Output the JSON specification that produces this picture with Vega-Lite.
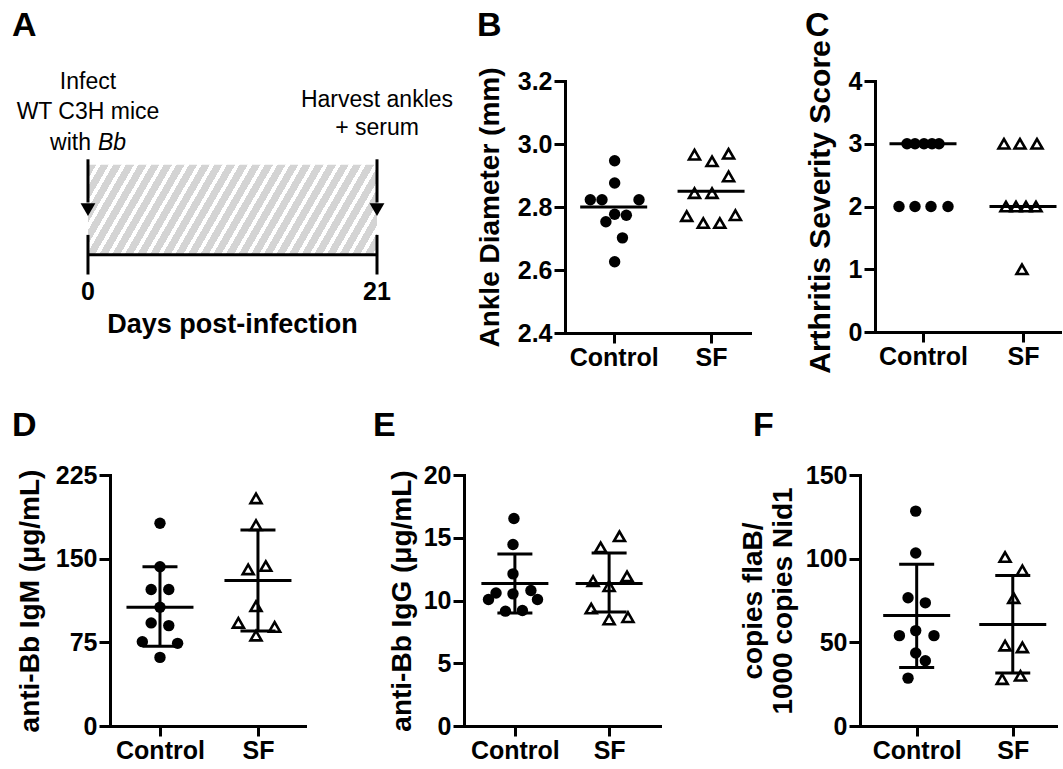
{
  "$schema": "https://vega.github.io/schema/vega-lite/v6.json",
  "background": "white",
  "padding": {"left": 12, "top": 8, "right": 0, "bottom": 0},
  "datasets": {
    "period": [{"start": 0, "end": 21}],
    "events": [{"day": 0, "lab": "0"}, {"day": 21, "lab": "21"}],
    "pts": [
      {"p": "B", "g": "Control", "x": 1.01, "v": 2.947},
      {"p": "B", "g": "Control", "x": 1.01, "v": 2.876},
      {"p": "B", "g": "Control", "x": 0.76, "v": 2.823},
      {"p": "B", "g": "Control", "x": 0.88, "v": 2.823},
      {"p": "B", "g": "Control", "x": 1.26, "v": 2.823},
      {"p": "B", "g": "Control", "x": 1.01, "v": 2.777},
      {"p": "B", "g": "Control", "x": 1.13, "v": 2.774},
      {"p": "B", "g": "Control", "x": 0.92, "v": 2.753},
      {"p": "B", "g": "Control", "x": 1.09, "v": 2.702},
      {"p": "B", "g": "Control", "x": 1.01, "v": 2.626},
      {"p": "B", "g": "SF", "x": 1.83, "v": 2.966},
      {"p": "B", "g": "SF", "x": 2.01, "v": 2.945},
      {"p": "B", "g": "SF", "x": 2.18, "v": 2.969},
      {"p": "B", "g": "SF", "x": 2.18, "v": 2.897},
      {"p": "B", "g": "SF", "x": 1.83, "v": 2.844},
      {"p": "B", "g": "SF", "x": 2.01, "v": 2.844},
      {"p": "B", "g": "SF", "x": 1.75, "v": 2.771},
      {"p": "B", "g": "SF", "x": 1.92, "v": 2.749},
      {"p": "B", "g": "SF", "x": 2.09, "v": 2.749},
      {"p": "B", "g": "SF", "x": 2.25, "v": 2.774},
      {"p": "C", "g": "Control", "x": 0.84, "v": 3},
      {"p": "C", "g": "Control", "x": 0.92, "v": 3},
      {"p": "C", "g": "Control", "x": 1.01, "v": 3},
      {"p": "C", "g": "Control", "x": 1.09, "v": 3},
      {"p": "C", "g": "Control", "x": 1.16, "v": 3},
      {"p": "C", "g": "Control", "x": 0.76, "v": 2},
      {"p": "C", "g": "Control", "x": 0.92, "v": 2},
      {"p": "C", "g": "Control", "x": 1.08, "v": 2},
      {"p": "C", "g": "Control", "x": 1.25, "v": 2},
      {"p": "C", "g": "SF", "x": 1.81, "v": 3},
      {"p": "C", "g": "SF", "x": 1.97, "v": 3},
      {"p": "C", "g": "SF", "x": 2.14, "v": 3},
      {"p": "C", "g": "SF", "x": 1.83, "v": 2},
      {"p": "C", "g": "SF", "x": 1.93, "v": 2},
      {"p": "C", "g": "SF", "x": 2.03, "v": 2},
      {"p": "C", "g": "SF", "x": 2.13, "v": 2},
      {"p": "C", "g": "SF", "x": 1.99, "v": 1},
      {"p": "D", "g": "Control", "x": 1.0, "v": 181.8},
      {"p": "D", "g": "Control", "x": 1.0, "v": 142.8},
      {"p": "D", "g": "Control", "x": 0.91, "v": 122.4},
      {"p": "D", "g": "Control", "x": 1.09, "v": 122.4},
      {"p": "D", "g": "Control", "x": 1.0, "v": 106.5},
      {"p": "D", "g": "Control", "x": 0.91, "v": 92.4},
      {"p": "D", "g": "Control", "x": 1.09, "v": 90},
      {"p": "D", "g": "Control", "x": 0.82, "v": 75.6},
      {"p": "D", "g": "Control", "x": 1.18, "v": 74.1},
      {"p": "D", "g": "Control", "x": 1.0, "v": 61.5},
      {"p": "D", "g": "SF", "x": 1.98, "v": 204},
      {"p": "D", "g": "SF", "x": 1.98, "v": 180},
      {"p": "D", "g": "SF", "x": 1.9, "v": 140.4},
      {"p": "D", "g": "SF", "x": 2.08, "v": 143.4},
      {"p": "D", "g": "SF", "x": 1.98, "v": 107.4},
      {"p": "D", "g": "SF", "x": 1.8, "v": 92.4},
      {"p": "D", "g": "SF", "x": 2.17, "v": 88.8},
      {"p": "D", "g": "SF", "x": 1.98, "v": 81},
      {"p": "E", "g": "Control", "x": 0.99, "v": 16.53},
      {"p": "E", "g": "Control", "x": 0.98, "v": 14.46},
      {"p": "E", "g": "Control", "x": 0.98, "v": 12.12},
      {"p": "E", "g": "Control", "x": 0.98, "v": 10.53},
      {"p": "E", "g": "Control", "x": 0.8, "v": 10.6},
      {"p": "E", "g": "Control", "x": 1.17, "v": 10.8},
      {"p": "E", "g": "Control", "x": 0.72, "v": 10.08},
      {"p": "E", "g": "Control", "x": 1.24, "v": 10.08},
      {"p": "E", "g": "Control", "x": 0.9, "v": 9.15},
      {"p": "E", "g": "Control", "x": 1.08, "v": 9.2},
      {"p": "E", "g": "SF", "x": 2.11, "v": 15.12},
      {"p": "E", "g": "SF", "x": 1.91, "v": 14.24},
      {"p": "E", "g": "SF", "x": 1.83, "v": 11.54},
      {"p": "E", "g": "SF", "x": 2.19, "v": 11.93},
      {"p": "E", "g": "SF", "x": 2.0, "v": 11.14},
      {"p": "E", "g": "SF", "x": 1.81, "v": 9.36},
      {"p": "E", "g": "SF", "x": 2.0, "v": 8.49},
      {"p": "E", "g": "SF", "x": 2.2, "v": 8.67},
      {"p": "F", "g": "Control", "x": 0.99, "v": 128.4},
      {"p": "F", "g": "Control", "x": 0.99, "v": 103.4},
      {"p": "F", "g": "Control", "x": 0.91, "v": 76.6},
      {"p": "F", "g": "Control", "x": 1.09, "v": 73.6},
      {"p": "F", "g": "Control", "x": 0.99, "v": 57},
      {"p": "F", "g": "Control", "x": 0.82, "v": 54},
      {"p": "F", "g": "Control", "x": 1.18, "v": 54},
      {"p": "F", "g": "Control", "x": 0.99, "v": 43.6},
      {"p": "F", "g": "Control", "x": 1.09, "v": 39},
      {"p": "F", "g": "Control", "x": 0.91, "v": 28.6},
      {"p": "F", "g": "SF", "x": 1.92, "v": 101},
      {"p": "F", "g": "SF", "x": 2.1, "v": 93},
      {"p": "F", "g": "SF", "x": 2.01, "v": 76.4},
      {"p": "F", "g": "SF", "x": 1.92, "v": 48},
      {"p": "F", "g": "SF", "x": 2.1, "v": 47},
      {"p": "F", "g": "SF", "x": 1.89, "v": 28},
      {"p": "F", "g": "SF", "x": 2.08, "v": 30}
    ],
    "sum": [
      {"p": "B", "g": "Control", "x": 1, "v": 2.8},
      {"p": "B", "g": "SF", "x": 2, "v": 2.85},
      {"p": "C", "g": "Control", "x": 1, "v": 3},
      {"p": "C", "g": "SF", "x": 2, "v": 2},
      {"p": "D", "g": "Control", "x": 1, "v": 106.5, "lo": 71.6, "hi": 142.8},
      {"p": "D", "g": "SF", "x": 2, "v": 130.5, "lo": 85.2, "hi": 175.8},
      {"p": "E", "g": "Control", "x": 1, "v": 11.35, "lo": 9.01, "hi": 13.71},
      {"p": "E", "g": "SF", "x": 2, "v": 11.35, "lo": 9.09, "hi": 13.79},
      {"p": "F", "g": "Control", "x": 1, "v": 66, "lo": 35, "hi": 96.6},
      {"p": "F", "g": "SF", "x": 2, "v": 60.6, "lo": 31.6, "hi": 90}
    ]
  },
  "vconcat": [
    {
      "spacing": 22,
      "hconcat": [
        {
          "width": 267,
          "height": 252,
          "title": {"text": "A", "dx": -98, "dy": -24},
          "layer": [
            {
              "data": {"name": "period"},
              "mark": {"type": "rect", "strokeWidth": 0, "fill": {"gradient": "linear", "x1": 0, "y1": 0, "x2": 1.1429, "y2": 0.2055, "stops": [
                {"offset": 0, "color": "#d4d4d4"}, {"offset": 0.0241, "color": "#d4d4d4"}, {"offset": 0.0241, "color": "#ffffff"}, {"offset": 0.037, "color": "#ffffff"},
                {"offset": 0.037, "color": "#d4d4d4"}, {"offset": 0.0611, "color": "#d4d4d4"}, {"offset": 0.0611, "color": "#ffffff"}, {"offset": 0.0741, "color": "#ffffff"},
                {"offset": 0.0741, "color": "#d4d4d4"}, {"offset": 0.0982, "color": "#d4d4d4"}, {"offset": 0.0982, "color": "#ffffff"}, {"offset": 0.1111, "color": "#ffffff"},
                {"offset": 0.1111, "color": "#d4d4d4"}, {"offset": 0.1352, "color": "#d4d4d4"}, {"offset": 0.1352, "color": "#ffffff"}, {"offset": 0.1481, "color": "#ffffff"},
                {"offset": 0.1481, "color": "#d4d4d4"}, {"offset": 0.1722, "color": "#d4d4d4"}, {"offset": 0.1722, "color": "#ffffff"}, {"offset": 0.1852, "color": "#ffffff"},
                {"offset": 0.1852, "color": "#d4d4d4"}, {"offset": 0.2093, "color": "#d4d4d4"}, {"offset": 0.2093, "color": "#ffffff"}, {"offset": 0.2222, "color": "#ffffff"},
                {"offset": 0.2222, "color": "#d4d4d4"}, {"offset": 0.2463, "color": "#d4d4d4"}, {"offset": 0.2463, "color": "#ffffff"}, {"offset": 0.2593, "color": "#ffffff"},
                {"offset": 0.2593, "color": "#d4d4d4"}, {"offset": 0.2834, "color": "#d4d4d4"}, {"offset": 0.2834, "color": "#ffffff"}, {"offset": 0.2963, "color": "#ffffff"},
                {"offset": 0.2963, "color": "#d4d4d4"}, {"offset": 0.3204, "color": "#d4d4d4"}, {"offset": 0.3204, "color": "#ffffff"}, {"offset": 0.3333, "color": "#ffffff"},
                {"offset": 0.3333, "color": "#d4d4d4"}, {"offset": 0.3574, "color": "#d4d4d4"}, {"offset": 0.3574, "color": "#ffffff"}, {"offset": 0.3704, "color": "#ffffff"},
                {"offset": 0.3704, "color": "#d4d4d4"}, {"offset": 0.3945, "color": "#d4d4d4"}, {"offset": 0.3945, "color": "#ffffff"}, {"offset": 0.4074, "color": "#ffffff"},
                {"offset": 0.4074, "color": "#d4d4d4"}, {"offset": 0.4315, "color": "#d4d4d4"}, {"offset": 0.4315, "color": "#ffffff"}, {"offset": 0.4444, "color": "#ffffff"},
                {"offset": 0.4444, "color": "#d4d4d4"}, {"offset": 0.4685, "color": "#d4d4d4"}, {"offset": 0.4685, "color": "#ffffff"}, {"offset": 0.4815, "color": "#ffffff"},
                {"offset": 0.4815, "color": "#d4d4d4"}, {"offset": 0.5056, "color": "#d4d4d4"}, {"offset": 0.5056, "color": "#ffffff"}, {"offset": 0.5185, "color": "#ffffff"},
                {"offset": 0.5185, "color": "#d4d4d4"}, {"offset": 0.5426, "color": "#d4d4d4"}, {"offset": 0.5426, "color": "#ffffff"}, {"offset": 0.5556, "color": "#ffffff"},
                {"offset": 0.5556, "color": "#d4d4d4"}, {"offset": 0.5797, "color": "#d4d4d4"}, {"offset": 0.5797, "color": "#ffffff"}, {"offset": 0.5926, "color": "#ffffff"},
                {"offset": 0.5926, "color": "#d4d4d4"}, {"offset": 0.6167, "color": "#d4d4d4"}, {"offset": 0.6167, "color": "#ffffff"}, {"offset": 0.6296, "color": "#ffffff"},
                {"offset": 0.6296, "color": "#d4d4d4"}, {"offset": 0.6537, "color": "#d4d4d4"}, {"offset": 0.6537, "color": "#ffffff"}, {"offset": 0.6667, "color": "#ffffff"},
                {"offset": 0.6667, "color": "#d4d4d4"}, {"offset": 0.6908, "color": "#d4d4d4"}, {"offset": 0.6908, "color": "#ffffff"}, {"offset": 0.7037, "color": "#ffffff"},
                {"offset": 0.7037, "color": "#d4d4d4"}, {"offset": 0.7278, "color": "#d4d4d4"}, {"offset": 0.7278, "color": "#ffffff"}, {"offset": 0.7407, "color": "#ffffff"},
                {"offset": 0.7407, "color": "#d4d4d4"}, {"offset": 0.7648, "color": "#d4d4d4"}, {"offset": 0.7648, "color": "#ffffff"}, {"offset": 0.7778, "color": "#ffffff"},
                {"offset": 0.7778, "color": "#d4d4d4"}, {"offset": 0.8019, "color": "#d4d4d4"}, {"offset": 0.8019, "color": "#ffffff"}, {"offset": 0.8148, "color": "#ffffff"},
                {"offset": 0.8148, "color": "#d4d4d4"}, {"offset": 0.8389, "color": "#d4d4d4"}, {"offset": 0.8389, "color": "#ffffff"}, {"offset": 0.8519, "color": "#ffffff"},
                {"offset": 0.8519, "color": "#d4d4d4"}, {"offset": 0.876, "color": "#d4d4d4"}, {"offset": 0.876, "color": "#ffffff"}, {"offset": 0.8889, "color": "#ffffff"},
                {"offset": 0.8889, "color": "#d4d4d4"}, {"offset": 0.913, "color": "#d4d4d4"}, {"offset": 0.913, "color": "#ffffff"}, {"offset": 0.9259, "color": "#ffffff"},
                {"offset": 0.9259, "color": "#d4d4d4"}, {"offset": 0.95, "color": "#d4d4d4"}, {"offset": 0.95, "color": "#ffffff"}, {"offset": 0.963, "color": "#ffffff"},
                {"offset": 0.963, "color": "#d4d4d4"}, {"offset": 0.9871, "color": "#d4d4d4"}, {"offset": 0.9871, "color": "#ffffff"}, {"offset": 1, "color": "#ffffff"}
              ]}},
              "encoding": {
                "x": {"field": "start", "type": "quantitative", "scale": {"domain": [1.6, 21], "nice": false, "zero": false}, "axis": null},
                "x2": {"field": "end"},
                "y": {"datum": 0, "type": "quantitative", "scale": {"domain": [-8.7, 19.3], "nice": false, "zero": false}, "axis": null},
                "y2": {"datum": 10}
              }
            },
            {
              "data": {"name": "period"},
              "mark": {"type": "rule", "strokeWidth": 3, "color": "#000"},
              "encoding": {
                "x": {"field": "start", "type": "quantitative", "scale": {"domain": [1.6, 21], "nice": false, "zero": false}, "axis": null},
                "x2": {"field": "end"},
                "y": {"datum": 0, "type": "quantitative", "scale": {"domain": [-8.7, 19.3], "nice": false, "zero": false}, "axis": null}
              }
            },
            {
              "data": {"name": "events"},
              "mark": {"type": "rule", "strokeWidth": 3, "color": "#000"},
              "encoding": {
                "x": {"field": "day", "type": "quantitative", "scale": {"domain": [1.6, 21], "nice": false, "zero": false}, "axis": null},
                "y": {"datum": -2.2, "type": "quantitative", "scale": {"domain": [-8.7, 19.3], "nice": false, "zero": false}, "axis": null},
                "y2": {"datum": 2.2}
              }
            },
            {
              "data": {"name": "events"},
              "mark": {"type": "rule", "strokeWidth": 3, "color": "#000"},
              "encoding": {
                "x": {"field": "day", "type": "quantitative", "scale": {"domain": [1.6, 21], "nice": false, "zero": false}, "axis": null},
                "y": {"datum": 10.6, "type": "quantitative", "scale": {"domain": [-8.7, 19.3], "nice": false, "zero": false}, "axis": null},
                "y2": {"datum": 5.8}
              }
            },
            {
              "data": {"name": "events"},
              "mark": {"type": "point", "shape": "triangle-down", "filled": true, "size": 220, "color": "#000", "opacity": 1},
              "encoding": {
                "x": {"field": "day", "type": "quantitative", "scale": {"domain": [1.6, 21], "nice": false, "zero": false}, "axis": null},
                "y": {"datum": 5.0, "type": "quantitative", "scale": {"domain": [-8.7, 19.3], "nice": false, "zero": false}, "axis": null}
              }
            },
            {
              "data": {"name": "events"},
              "mark": {"type": "text", "font": "Liberation Sans", "fontSize": 25, "fontWeight": "bold", "baseline": "middle", "align": "center", "color": "#000"},
              "encoding": {
                "x": {"field": "day", "type": "quantitative", "scale": {"domain": [1.6, 21], "nice": false, "zero": false}, "axis": null},
                "y": {"datum": -4.1, "type": "quantitative", "scale": {"domain": [-8.7, 19.3], "nice": false, "zero": false}, "axis": null},
                "text": {"field": "lab"}
              }
            },
            {
              "data": {"name": "period"},
              "mark": {"type": "text", "text": "Days post-infection", "font": "Liberation Sans", "fontSize": 27, "fontWeight": "bold", "baseline": "middle", "align": "center", "color": "#000"},
              "encoding": {
                "x": {"datum": 10.5, "type": "quantitative", "scale": {"domain": [1.6, 21], "nice": false, "zero": false}, "axis": null},
                "y": {"datum": -7.8, "type": "quantitative", "scale": {"domain": [-8.7, 19.3], "nice": false, "zero": false}, "axis": null}
              }
            },
            {
              "data": {"name": "period"},
              "mark": {"type": "text", "text": "Infect", "font": "Liberation Sans", "fontSize": 23, "baseline": "middle", "align": "center", "color": "#000"},
              "encoding": {
                "x": {"field": "start", "type": "quantitative", "scale": {"domain": [1.6, 21], "nice": false, "zero": false}, "axis": null},
                "y": {"datum": 19.2, "type": "quantitative", "scale": {"domain": [-8.7, 19.3], "nice": false, "zero": false}, "axis": null}
              }
            },
            {
              "data": {"name": "period"},
              "mark": {"type": "text", "text": "WT C3H mice", "font": "Liberation Sans", "fontSize": 23, "baseline": "middle", "align": "center", "color": "#000"},
              "encoding": {
                "x": {"field": "start", "type": "quantitative", "scale": {"domain": [1.6, 21], "nice": false, "zero": false}, "axis": null},
                "y": {"datum": 15.9, "type": "quantitative", "scale": {"domain": [-8.7, 19.3], "nice": false, "zero": false}, "axis": null}
              }
            },
            {
              "data": {"name": "period"},
              "mark": {"type": "text", "text": "with", "font": "Liberation Sans", "fontSize": 23, "baseline": "middle", "align": "right", "dx": 3, "color": "#000"},
              "encoding": {
                "x": {"field": "start", "type": "quantitative", "scale": {"domain": [1.6, 21], "nice": false, "zero": false}, "axis": null},
                "y": {"datum": 12.44, "type": "quantitative", "scale": {"domain": [-8.7, 19.3], "nice": false, "zero": false}, "axis": null}
              }
            },
            {
              "data": {"name": "period"},
              "mark": {"type": "text", "text": "Bb", "font": "Liberation Sans", "fontSize": 23, "fontStyle": "italic", "baseline": "middle", "align": "left", "dx": 10, "color": "#000"},
              "encoding": {
                "x": {"field": "start", "type": "quantitative", "scale": {"domain": [1.6, 21], "nice": false, "zero": false}, "axis": null},
                "y": {"datum": 12.44, "type": "quantitative", "scale": {"domain": [-8.7, 19.3], "nice": false, "zero": false}, "axis": null}
              }
            },
            {
              "data": {"name": "period"},
              "mark": {"type": "text", "text": "Harvest ankles", "font": "Liberation Sans", "fontSize": 23, "baseline": "middle", "align": "center", "color": "#000"},
              "encoding": {
                "x": {"field": "end", "type": "quantitative", "scale": {"domain": [1.6, 21], "nice": false, "zero": false}, "axis": null},
                "y": {"datum": 17.2, "type": "quantitative", "scale": {"domain": [-8.7, 19.3], "nice": false, "zero": false}, "axis": null}
              }
            },
            {
              "data": {"name": "period"},
              "mark": {"type": "text", "text": "+ serum", "font": "Liberation Sans", "fontSize": 23, "baseline": "middle", "align": "center", "color": "#000"},
              "encoding": {
                "x": {"field": "end", "type": "quantitative", "scale": {"domain": [1.6, 21], "nice": false, "zero": false}, "axis": null},
                "y": {"datum": 14.1, "type": "quantitative", "scale": {"domain": [-8.7, 19.3], "nice": false, "zero": false}, "axis": null}
              }
            }
          ]
        },
        {
          "spacing": 55,
          "hconcat": [
            {
              "width": 185,
              "height": 252,
              "title": {"text": "B", "dx": -88, "dy": -20},
              "encoding": {
                "x": {"field": "x", "type": "quantitative", "scale": {"domain": [0.5, 2.4], "nice": false, "zero": false}, "axis": {"values": [1, 2], "labelExpr": "datum.value == 1 ? 'Control' : 'SF'", "title": null}},
                "y": {"field": "v", "type": "quantitative", "scale": {"domain": [2.4, 3.2], "nice": false, "zero": false}, "axis": {"values": [2.4, 2.6, 2.8, 3.0, 3.2], "format": ".1f", "title": "Ankle Diameter (mm)", "titlePadding": 13}}
              },
              "layer": [
                {"data": {"name": "pts"}, "transform": [{"filter": "datum.p == 'B' && datum.g == 'Control'"}], "mark": {"type": "point", "shape": "circle", "filled": true, "size": 130, "color": "#000", "opacity": 1}},
                {"data": {"name": "pts"}, "transform": [{"filter": "datum.p == 'B' && datum.g == 'SF'"}], "mark": {"type": "point", "shape": "triangle-up", "filled": false, "size": 120, "strokeWidth": 2.6, "color": "#000", "opacity": 1}},
                {"data": {"name": "sum"}, "transform": [{"filter": "datum.p == 'B'"}], "mark": {"type": "tick", "orient": "horizontal", "size": 67, "thickness": 3, "color": "#000", "opacity": 1}}
              ]
            },
            {
              "width": 187,
              "height": 251,
              "title": {"text": "C", "dx": -70, "dy": 7},
              "encoding": {
                "x": {"field": "x", "type": "quantitative", "scale": {"domain": [0.52, 2.39], "nice": false, "zero": false}, "axis": {"values": [1, 2], "labelExpr": "datum.value == 1 ? 'Control' : 'SF'", "title": null}},
                "y": {"field": "v", "type": "quantitative", "scale": {"domain": [0, 4], "nice": false, "zero": false}, "axis": {"values": [0, 1, 2, 3, 4], "title": "Arthritis Severity Score", "titleFontSize": 30, "titlePadding": 13}}
              },
              "layer": [
                {"data": {"name": "pts"}, "transform": [{"filter": "datum.p == 'C' && datum.g == 'Control'"}], "mark": {"type": "point", "shape": "circle", "filled": true, "size": 130, "color": "#000", "opacity": 1}},
                {"data": {"name": "pts"}, "transform": [{"filter": "datum.p == 'C' && datum.g == 'SF'"}], "mark": {"type": "point", "shape": "triangle-up", "filled": false, "size": 120, "strokeWidth": 2.6, "color": "#000", "opacity": 1}},
                {"data": {"name": "sum"}, "transform": [{"filter": "datum.p == 'C'"}], "mark": {"type": "tick", "orient": "horizontal", "size": 67, "thickness": 3, "color": "#000", "opacity": 1}}
              ]
            }
          ]
        }
      ]
    },
    {
      "spacing": 68,
      "hconcat": [
        {
          "width": 195,
          "height": 251,
          "title": {"text": "D", "dx": -98, "dy": -16},
          "encoding": {
            "x": {"field": "x", "type": "quantitative", "scale": {"domain": [0.49, 2.48], "nice": false, "zero": false}, "axis": {"values": [1, 2], "labelExpr": "datum.value == 1 ? 'Control' : 'SF'", "title": null}},
            "y": {"field": "v", "type": "quantitative", "scale": {"domain": [0, 225], "nice": false, "zero": false}, "axis": {"values": [0, 75, 150, 225], "title": "anti-Bb IgM (μg/mL)", "titlePadding": 11}}
          },
          "layer": [
            {"data": {"name": "pts"}, "transform": [{"filter": "datum.p == 'D' && datum.g == 'Control'"}], "mark": {"type": "point", "shape": "circle", "filled": true, "size": 130, "color": "#000", "opacity": 1}},
            {"data": {"name": "pts"}, "transform": [{"filter": "datum.p == 'D' && datum.g == 'SF'"}], "mark": {"type": "point", "shape": "triangle-up", "filled": false, "size": 120, "strokeWidth": 2.6, "color": "#000", "opacity": 1}},
            {"data": {"name": "sum"}, "transform": [{"filter": "datum.p == 'D'"}], "mark": {"type": "tick", "orient": "horizontal", "size": 67, "thickness": 3, "color": "#000", "opacity": 1}},
            {"data": {"name": "sum"}, "transform": [{"filter": "datum.p == 'D'"}], "mark": {"type": "rule", "strokeWidth": 3, "color": "#000"},
             "encoding": {"y": {"field": "lo", "type": "quantitative", "scale": {"domain": [0, 225], "nice": false, "zero": false}, "axis": {"values": [0, 75, 150, 225], "title": "anti-Bb IgM (μg/mL)", "titlePadding": 11}}, "y2": {"field": "hi"}}},
            {"data": {"name": "sum"}, "transform": [{"filter": "datum.p == 'D'"}], "mark": {"type": "tick", "orient": "horizontal", "size": 35, "thickness": 3, "color": "#000", "opacity": 1},
             "encoding": {"y": {"field": "lo", "type": "quantitative", "scale": {"domain": [0, 225], "nice": false, "zero": false}, "axis": {"values": [0, 75, 150, 225], "title": "anti-Bb IgM (μg/mL)", "titlePadding": 11}}}},
            {"data": {"name": "sum"}, "transform": [{"filter": "datum.p == 'D'"}], "mark": {"type": "tick", "orient": "horizontal", "size": 35, "thickness": 3, "color": "#000", "opacity": 1},
             "encoding": {"y": {"field": "hi", "type": "quantitative", "scale": {"domain": [0, 225], "nice": false, "zero": false}, "axis": {"values": [0, 75, 150, 225], "title": "anti-Bb IgM (μg/mL)", "titlePadding": 11}}}}
          ]
        },
        {
          "spacing": 79,
          "hconcat": [
            {
              "width": 196,
              "height": 251,
              "title": {"text": "E", "dx": -91, "dy": -16},
              "encoding": {
                "x": {"field": "x", "type": "quantitative", "scale": {"domain": [0.46, 2.54], "nice": false, "zero": false}, "axis": {"values": [1, 2], "labelExpr": "datum.value == 1 ? 'Control' : 'SF'", "title": null}},
                "y": {"field": "v", "type": "quantitative", "scale": {"domain": [0, 20], "nice": false, "zero": false}, "axis": {"values": [0, 5, 10, 15, 20], "title": "anti-Bb IgG (μg/mL)", "titlePadding": 7}}
              },
              "layer": [
                {"data": {"name": "pts"}, "transform": [{"filter": "datum.p == 'E' && datum.g == 'Control'"}], "mark": {"type": "point", "shape": "circle", "filled": true, "size": 130, "color": "#000", "opacity": 1}},
                {"data": {"name": "pts"}, "transform": [{"filter": "datum.p == 'E' && datum.g == 'SF'"}], "mark": {"type": "point", "shape": "triangle-up", "filled": false, "size": 120, "strokeWidth": 2.6, "color": "#000", "opacity": 1}},
                {"data": {"name": "sum"}, "transform": [{"filter": "datum.p == 'E'"}], "mark": {"type": "tick", "orient": "horizontal", "size": 67, "thickness": 3, "color": "#000", "opacity": 1}},
                {"data": {"name": "sum"}, "transform": [{"filter": "datum.p == 'E'"}], "mark": {"type": "rule", "strokeWidth": 3, "color": "#000"},
                 "encoding": {"y": {"field": "lo", "type": "quantitative", "scale": {"domain": [0, 20], "nice": false, "zero": false}, "axis": {"values": [0, 5, 10, 15, 20], "title": "anti-Bb IgG (μg/mL)", "titlePadding": 7}}, "y2": {"field": "hi"}}},
                {"data": {"name": "sum"}, "transform": [{"filter": "datum.p == 'E'"}], "mark": {"type": "tick", "orient": "horizontal", "size": 35, "thickness": 3, "color": "#000", "opacity": 1},
                 "encoding": {"y": {"field": "lo", "type": "quantitative", "scale": {"domain": [0, 20], "nice": false, "zero": false}, "axis": {"values": [0, 5, 10, 15, 20], "title": "anti-Bb IgG (μg/mL)", "titlePadding": 7}}}},
                {"data": {"name": "sum"}, "transform": [{"filter": "datum.p == 'E'"}], "mark": {"type": "tick", "orient": "horizontal", "size": 35, "thickness": 3, "color": "#000", "opacity": 1},
                 "encoding": {"y": {"field": "hi", "type": "quantitative", "scale": {"domain": [0, 20], "nice": false, "zero": false}, "axis": {"values": [0, 5, 10, 15, 20], "title": "anti-Bb IgG (μg/mL)", "titlePadding": 7}}}}
              ]
            },
            {
              "width": 196,
              "height": 251,
              "title": {"text": "F", "dx": -107, "dy": -16},
              "encoding": {
                "x": {"field": "x", "type": "quantitative", "scale": {"domain": [0.41, 2.45], "nice": false, "zero": false}, "axis": {"values": [1, 2], "labelExpr": "datum.value == 1 ? 'Control' : 'SF'", "title": null}},
                "y": {"field": "v", "type": "quantitative", "scale": {"domain": [0, 150], "nice": false, "zero": false}, "axis": {"values": [0, 50, 100, 150], "title": ["copies flaB/", "1000 copies Nid1"], "titlePadding": 8}}
              },
              "layer": [
                {"data": {"name": "pts"}, "transform": [{"filter": "datum.p == 'F' && datum.g == 'Control'"}], "mark": {"type": "point", "shape": "circle", "filled": true, "size": 130, "color": "#000", "opacity": 1}},
                {"data": {"name": "pts"}, "transform": [{"filter": "datum.p == 'F' && datum.g == 'SF'"}], "mark": {"type": "point", "shape": "triangle-up", "filled": false, "size": 120, "strokeWidth": 2.6, "color": "#000", "opacity": 1}},
                {"data": {"name": "sum"}, "transform": [{"filter": "datum.p == 'F'"}], "mark": {"type": "tick", "orient": "horizontal", "size": 67, "thickness": 3, "color": "#000", "opacity": 1}},
                {"data": {"name": "sum"}, "transform": [{"filter": "datum.p == 'F'"}], "mark": {"type": "rule", "strokeWidth": 3, "color": "#000"},
                 "encoding": {"y": {"field": "lo", "type": "quantitative", "scale": {"domain": [0, 150], "nice": false, "zero": false}, "axis": {"values": [0, 50, 100, 150], "title": ["copies flaB/", "1000 copies Nid1"], "titlePadding": 8}}, "y2": {"field": "hi"}}},
                {"data": {"name": "sum"}, "transform": [{"filter": "datum.p == 'F'"}], "mark": {"type": "tick", "orient": "horizontal", "size": 35, "thickness": 3, "color": "#000", "opacity": 1},
                 "encoding": {"y": {"field": "lo", "type": "quantitative", "scale": {"domain": [0, 150], "nice": false, "zero": false}, "axis": {"values": [0, 50, 100, 150], "title": ["copies flaB/", "1000 copies Nid1"], "titlePadding": 8}}}},
                {"data": {"name": "sum"}, "transform": [{"filter": "datum.p == 'F'"}], "mark": {"type": "tick", "orient": "horizontal", "size": 35, "thickness": 3, "color": "#000", "opacity": 1},
                 "encoding": {"y": {"field": "hi", "type": "quantitative", "scale": {"domain": [0, 150], "nice": false, "zero": false}, "axis": {"values": [0, 50, 100, 150], "title": ["copies flaB/", "1000 copies Nid1"], "titlePadding": 8}}}}
              ]
            }
          ]
        }
      ]
    }
  ],
  "spacing": 35,
  "config": {
    "view": {"stroke": null},
    "font": "Liberation Sans",
    "axis": {
      "domainColor": "#000", "domainWidth": 3, "domainCap": "square",
      "tickColor": "#000", "tickWidth": 3, "grid": false,
      "labelColor": "#000", "labelFont": "Liberation Sans", "labelFontSize": 25, "labelFontWeight": "bold", "labelPadding": 2, "labelFlush": false,
      "titleColor": "#000", "titleFont": "Liberation Sans", "titleFontSize": 28, "titleFontWeight": "bold"
    },
    "axisX": {"tickSize": 10},
    "axisY": {"tickSize": 11, "titleLineHeight": 30},
    "title": {"anchor": "start", "frame": "group", "fontSize": 34, "fontWeight": "bold", "font": "Liberation Sans", "color": "#000", "offset": 0, "baseline": "alphabetic"}
  }
}
